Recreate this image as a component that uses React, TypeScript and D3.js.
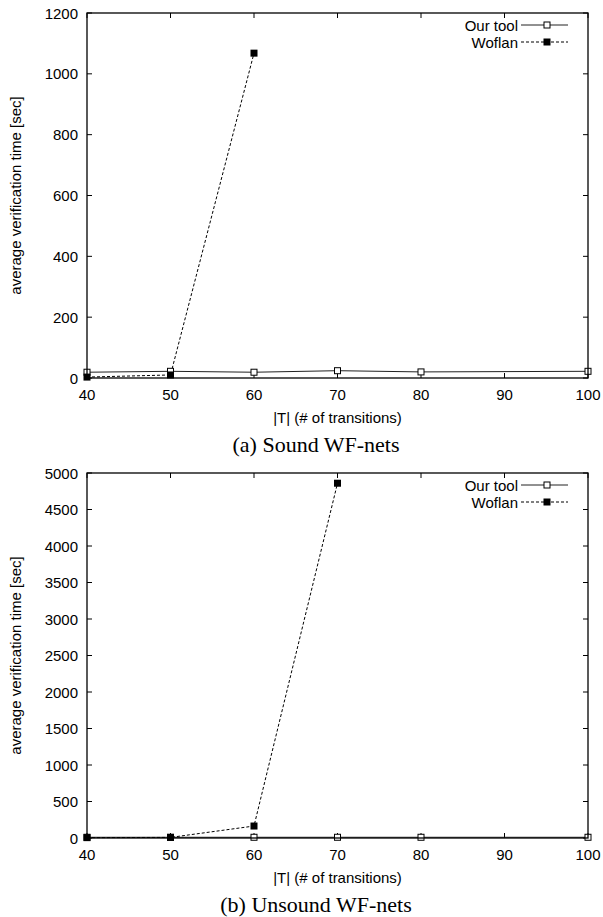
import React from "react";
import * as d3 from "d3";

const xTicks = [40, 50, 60, 70, 80, 90, 100];
const ourToolX = [40, 50, 60, 70, 80, 100];
const soundOurTool = [19, 22, 19, 24, 20, 22];
const soundWoflanX = [40, 50, 60];
const soundWoflan = [3, 10, 1068];
const unsoundOurTool = [10, 10, 10, 10, 10, 10];
const unsoundWoflanX = [40, 50, 60, 70];
const unsoundWoflan = [5, 8, 164, 4860];
const soundYTicks = [0, 200, 400, 600, 800, 1000, 1200];
const unsoundYTicks = [0, 500, 1000, 1500, 2000, 2500, 3000, 3500, 4000, 4500, 5000];
const seriesNames = ["Our tool", "Woflan"];
const xTitle = "|T| (# of transitions)";
const yTitle = "average verification time [sec]";
const captions = ["(a) Sound WF-nets", "(b) Unsound WF-nets"];

const SANS = "'Liberation Sans', Arial, Helvetica, sans-serif";
const SERIF = "'Liberation Serif', 'Times New Roman', serif";

type PanelProps = {
  top: number;
  yMax: number;
  yTicks: number[];
  ours: number[];
  wofX: number[];
  wof: number[];
  caption: string;
};

function Panel({ top, yMax, yTicks, ours, wofX, wof, caption }: PanelProps) {
  const left = 87;
  const right = 588;
  const h = 365;
  const x = d3.scaleLinear().domain([40, 100]).range([left, right]);
  const y = d3.scaleLinear().domain([0, yMax]).range([top + h, top]);
  const line = d3
    .line<[number, number]>()
    .x((d) => x(d[0]))
    .y((d) => y(d[1]));
  const oursPts: [number, number][] = ourToolX.map((v, i) => [v, ours[i]]);
  const wofPts: [number, number][] = wofX.map((v, i) => [v, wof[i]]);
  const tl = 5;
  const ms = 6;
  const legX1 = 521;
  const legX2 = 568;
  const legM = 547;
  const legTextX = 518;
  const fs = 15;
  return (
    <g>
      {xTicks.map((t) => (
        <g key={"xt" + t}>
          <line x1={x(t)} x2={x(t)} y1={top + h} y2={top + h - tl} stroke="#000" strokeWidth={1} />
          <line x1={x(t)} x2={x(t)} y1={top} y2={top + tl} stroke="#000" strokeWidth={1} />
          <text x={x(t)} y={top + h + 22} textAnchor="middle" fontFamily={SANS} fontSize={fs}>
            {t}
          </text>
        </g>
      ))}
      {yTicks.map((t) => (
        <g key={"yt" + t}>
          <line x1={left} x2={left + tl} y1={y(t)} y2={y(t)} stroke="#000" strokeWidth={1} />
          <line x1={right} x2={right - tl} y1={y(t)} y2={y(t)} stroke="#000" strokeWidth={1} />
          <text x={78} y={y(t) + 5.5} textAnchor="end" fontFamily={SANS} fontSize={fs}>
            {t}
          </text>
        </g>
      ))}
      <path d={line(oursPts) || ""} fill="none" stroke="#222" strokeWidth={1} />
      <path d={line(wofPts) || ""} fill="none" stroke="#000" strokeWidth={1} strokeDasharray="3,2" />
      {oursPts.map((p, i) => (
        <rect key={"o" + i} x={x(p[0]) - ms / 2} y={y(p[1]) - ms / 2} width={ms} height={ms} fill="#fff" stroke="#000" strokeWidth={1} />
      ))}
      {wofPts.map((p, i) => (
        <rect key={"w" + i} x={x(p[0]) - 3.5} y={y(p[1]) - 3.5} width={7} height={7} fill="#000" />
      ))}
      <rect x={left} y={top} width={right - left} height={h} fill="none" stroke="#000" strokeWidth={1.3} />
      <text x={legTextX} y={top + 17.5} textAnchor="end" fontFamily={SANS} fontSize={fs}>
        {seriesNames[0]}
      </text>
      <line x1={legX1} x2={legX2} y1={top + 12} y2={top + 12} stroke="#222" strokeWidth={1} />
      <rect x={legM - ms / 2} y={top + 12 - ms / 2} width={ms} height={ms} fill="#fff" stroke="#000" strokeWidth={1} />
      <text x={legTextX} y={top + 34.5} textAnchor="end" fontFamily={SANS} fontSize={fs}>
        {seriesNames[1]}
      </text>
      <line x1={legX1} x2={legX2} y1={top + 29} y2={top + 29} stroke="#000" strokeWidth={1} strokeDasharray="3,2" />
      <rect x={legM - 3.5} y={top + 29 - 3.5} width={7} height={7} fill="#000" />
      <text x={(left + right) / 2} y={top + h + 45} textAnchor="middle" fontFamily={SANS} fontSize={fs}>
        {xTitle}
      </text>
      <text
        transform={`translate(${21},${top + h / 2}) rotate(-90)`}
        textAnchor="middle"
        fontFamily={SANS}
        fontSize={fs}
      >
        {yTitle}
      </text>
      <text x={316} y={top + h + 74} textAnchor="middle" fontFamily={SERIF} fontSize={22}>
        {caption}
      </text>
    </g>
  );
}

export default function App() {
  return (
    <svg
      width={603}
      height={917}
      style={{ position: "absolute", left: 0, top: 0, background: "#fff" }}
    >
      <rect width={603} height={917} fill="#fff" />
      <Panel top={13} yMax={1200} yTicks={soundYTicks} ours={soundOurTool} wofX={soundWoflanX} wof={soundWoflan} caption={captions[0]} />
      <Panel top={473} yMax={5000} yTicks={unsoundYTicks} ours={unsoundOurTool} wofX={unsoundWoflanX} wof={unsoundWoflan} caption={captions[1]} />
    </svg>
  );
}
